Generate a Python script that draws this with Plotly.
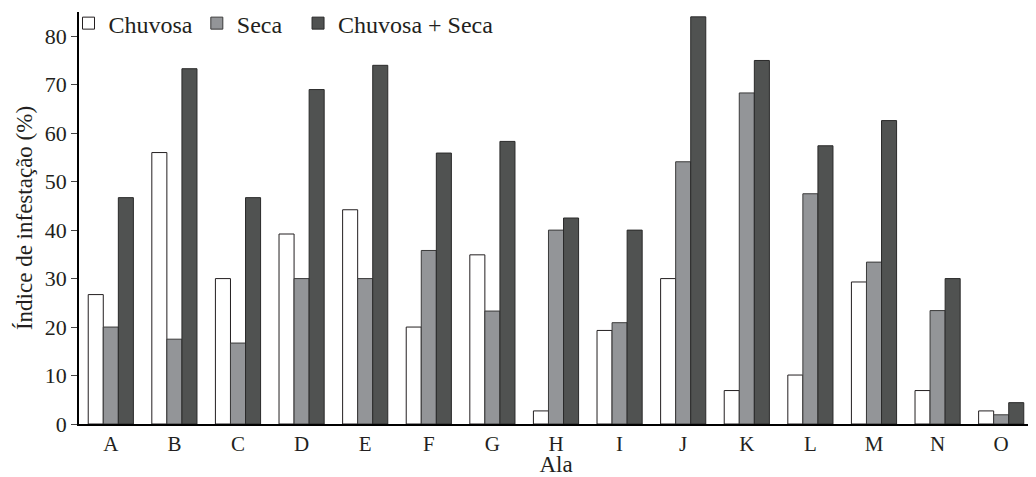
import plotly.graph_objects as go

categories = ["A", "B", "C", "D", "E", "F", "G", "H", "I", "J", "K", "L", "M", "N", "O"]
chuvosa = [26.7, 56.0, 30.0, 39.2, 44.2, 20.0, 34.9, 2.7, 19.3, 30.0, 6.9, 10.1, 29.3, 6.9, 2.7]
seca = [20.0, 17.5, 16.7, 30.0, 30.0, 35.8, 23.3, 40.0, 20.9, 54.1, 68.3, 47.5, 33.4, 23.4, 1.9]
chuvosa_seca = [46.7, 73.3, 46.7, 69.0, 74.0, 55.9, 58.3, 42.5, 40.0, 84.0, 75.0, 57.4, 62.6, 30.0, 4.4]
y_ticks = [0, 10, 20, 30, 40, 50, 60, 70, 80]

FONT = "Liberation Serif, Times New Roman, serif"
INK = "#231f20"

fig = go.Figure()
fig.add_trace(go.Bar(x=categories, y=chuvosa, name="Chuvosa",
                     marker=dict(color="#ffffff", line=dict(color=INK, width=1)),
                     legend="legend", showlegend=True))
fig.add_trace(go.Bar(x=categories, y=seca, name="Seca",
                     marker=dict(color="#939598", line=dict(color="#3a3a3a", width=1)),
                     legend="legend2", showlegend=True))
fig.add_trace(go.Bar(x=categories, y=chuvosa_seca, name="Chuvosa + Seca",
                     marker=dict(color="#505251", line=dict(color="#2a2a2a", width=1)),
                     legend="legend3", showlegend=True))

leg_common = dict(orientation="h", yanchor="middle", y=0.972, xanchor="left",
                  font=dict(family=FONT, size=24, color=INK),
                  bgcolor="rgba(0,0,0,0)", itemwidth=30)

# page body has an 8px default margin; figure size compensates for it
fig.update_layout(
    width=1028, height=469,
    showlegend=True,
    margin=dict(l=71, r=3, t=4, b=53, autoexpand=False),
    paper_bgcolor="white", plot_bgcolor="white",
    barmode="group", bargap=0.29, bargroupgap=0,
    font=dict(family=FONT, size=22, color=INK),
    legend=dict(x=-0.0110, **leg_common),
    legend2=dict(x=0.1235, **leg_common),
    legend3=dict(x=0.2296, **leg_common),
    xaxis=dict(
        showline=True, linecolor="black", linewidth=1.5,
        ticks="", showgrid=False, automargin=False,
        tickfont=dict(family=FONT, size=21, color=INK),
        title=dict(text="Ala", font=dict(family=FONT, size=23, color=INK), standoff=4),
    ),
    yaxis=dict(
        range=[0, 85], tickvals=y_ticks, automargin=False,
        showline=True, linecolor="black", linewidth=1.5,
        ticks="outside", ticklen=6, tickcolor="#444", tickwidth=1,
        showgrid=False, zeroline=False,
        tickfont=dict(family=FONT, size=22, color=INK),
        title=dict(text="Índice de infestação (%)", font=dict(family=FONT, size=23, color=INK), standoff=6),
    ),
)

fig.write_html("out.html")
